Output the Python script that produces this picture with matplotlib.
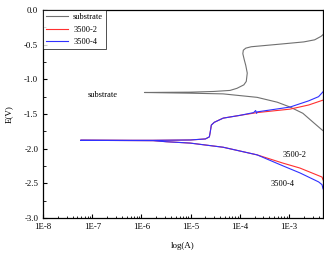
import numpy as np
import matplotlib
matplotlib.use('Agg')
import matplotlib.pyplot as plt
from matplotlib.ticker import LogLocator, FuncFormatter, MultipleLocator, NullFormatter

plt.rcParams['font.family'] = 'Liberation Serif'
plt.rcParams['axes.unicode_minus'] = False

# substrate: cathodic end -> Ecorr -> anodic end  (log10 current, potential)
sub_logi = [-2.31, -2.33, -2.51, -2.72, -2.98, -3.24, -3.65, -4.34, -5.01, -5.94,
            -5.0, -4.53, -4.2, -4.06, -3.92, -3.87, -3.85, -3.88, -3.91, -3.94,
            -3.93, -3.88, -3.77, -3.15, -2.7, -2.48, -2.35, -2.27]
sub_e = [-1.74, -1.73, -1.62, -1.49, -1.40, -1.33, -1.26, -1.21, -1.20, -1.19,
         -1.185, -1.175, -1.16, -1.13, -1.08, -1.03, -0.91, -0.80, -0.72, -0.63,
         -0.58, -0.55, -0.53, -0.49, -0.46, -0.43, -0.38, -0.33]

# 3500-2
s2_logi = [-2.31, -2.33, -2.78, -3.12, -3.65, -4.34, -5.01, -5.5, -5.76, -7.24,
           -5.76, -5.0, -4.7, -4.62, -4.60, -4.58, -4.52, -4.34, -4.0, -3.65,
           -2.98, -2.6, -2.31]
s2_e = [-2.45, -2.41, -2.28, -2.21, -2.09, -1.98, -1.92, -1.90, -1.885, -1.88,
        -1.88, -1.875, -1.86, -1.83, -1.75, -1.66, -1.62, -1.56, -1.52, -1.48,
        -1.43, -1.37, -1.30]

# 3500-4
s4_logi = [-2.31, -2.33, -2.4, -2.78, -3.12, -3.65, -4.34, -5.01, -5.5, -5.76, -7.24,
           -5.76, -5.0, -4.7, -4.62, -4.60, -4.58, -4.52, -4.34, -4.0, -3.72, -3.68,
           -3.66, -3.65, -2.98, -2.6, -2.4, -2.31]
s4_e = [-2.58, -2.52, -2.48, -2.35, -2.25, -2.09, -1.98, -1.92, -1.90, -1.885, -1.88,
        -1.88, -1.875, -1.86, -1.83, -1.75, -1.66, -1.62, -1.56, -1.52, -1.48, -1.45,
        -1.49, -1.47, -1.40, -1.31, -1.25, -1.18]

fig = plt.figure(figsize=(3.24, 2.57), dpi=100)
ax = fig.add_axes([0.133, 0.152, 0.864, 0.809])

ax.plot(10**np.array(sub_logi), sub_e, color='#707070', lw=0.8, label='substrate')
ax.plot(10**np.array(s2_logi), s2_e, color='#ff3030', lw=0.8, label='3500-2')
ax.plot(10**np.array(s4_logi), s4_e, color='#3030ff', lw=0.8, label='3500-4')

ax.set_xscale('log')
ax.set_xlim(1e-8, 4.9e-3)
ax.set_ylim(-3.0, 0.0)

ax.xaxis.set_major_locator(LogLocator(base=10, numticks=12))
ax.xaxis.set_minor_locator(LogLocator(base=10, subs=np.arange(2, 10), numticks=12))
ax.xaxis.set_major_formatter(FuncFormatter(lambda v, p: '1E%d' % round(np.log10(v))))
ax.xaxis.set_minor_formatter(NullFormatter())
ax.yaxis.set_major_locator(MultipleLocator(0.5))
ax.yaxis.set_minor_locator(MultipleLocator(0.25))
ax.yaxis.set_major_formatter(FuncFormatter(lambda v, p: '%.1f' % v))

ax.tick_params(which='both', direction='in', labelsize=6.3, top=False, right=False)
ax.tick_params(which='major', length=3, width=0.8)
ax.tick_params(which='minor', length=1.8, width=0.6)

for s in ax.spines.values():
    s.set_linewidth(0.9)

ax.set_xlabel('log(A)', fontsize=6.5, labelpad=8)
ax.set_ylabel('E(V)', fontsize=6.5, labelpad=8)

ax.text(10**-6.8, -1.23, 'substrate', fontsize=6, ha='center', va='center')
ax.text(10**-2.88, -2.09, '3500-2', fontsize=6, ha='center', va='center')
ax.text(10**-3.14, -2.51, '3500-4', fontsize=6, ha='center', va='center')

leg = ax.legend(loc='upper left', fontsize=6, frameon=True, fancybox=False,
                edgecolor='black', borderaxespad=0, handlelength=2.6,
                handletextpad=0.6, borderpad=0.4, labelspacing=0.5)
leg.get_frame().set_linewidth(0.6)

fig.savefig('out.png', dpi=100)
